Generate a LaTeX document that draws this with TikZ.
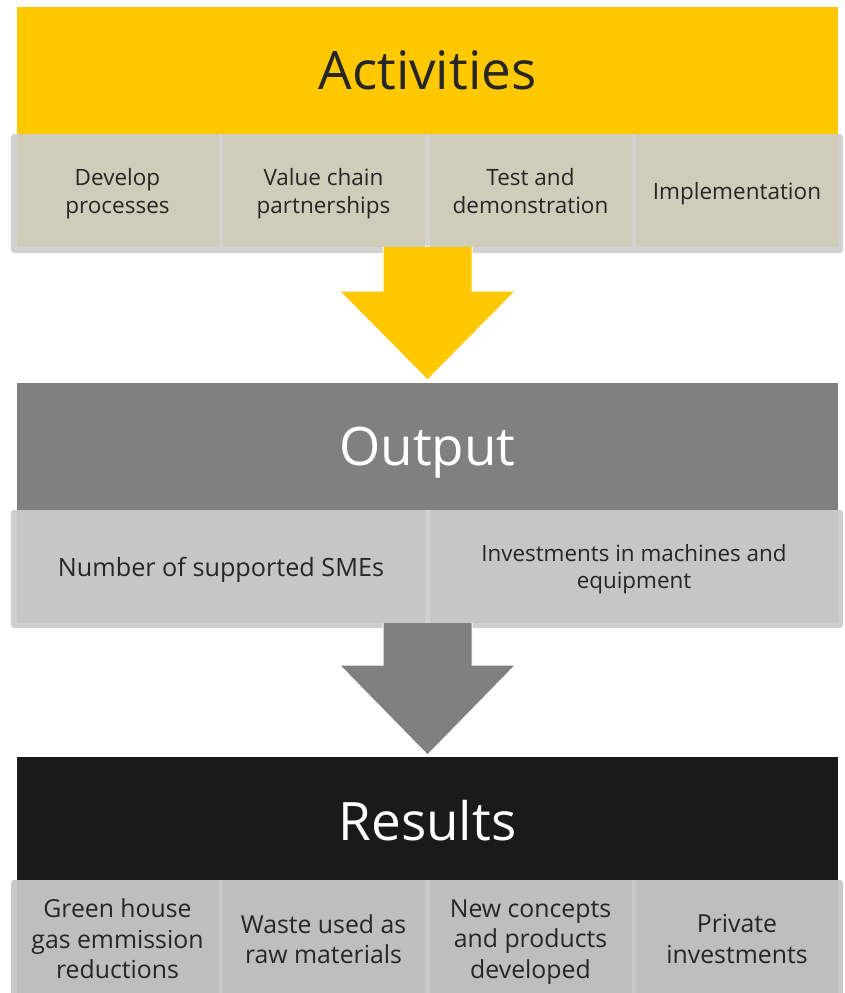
\documentclass[tikz,border=0pt]{standalone}
\usepackage{fontspec}
\setmainfont{Open Sans}
\usepackage{tikz}

\definecolor{actyellow}{RGB}{255,200,0}
\definecolor{acttan}{RGB}{208,204,186}
\definecolor{actframe}{RGB}{210,210,210}
\definecolor{outgray}{RGB}{128,128,128}
\definecolor{outbox}{RGB}{198,198,198}
\definecolor{outframe}{RGB}{206,206,206}
\definecolor{resblack}{RGB}{26,26,26}
\definecolor{resbox}{RGB}{190,190,190}
\definecolor{resframe}{RGB}{200,200,200}
\definecolor{ink}{RGB}{38,38,38}

\begin{document}
\begin{tikzpicture}[x=1pt, y=-1pt,
    band/.style={minimum width=821pt, minimum height=127pt, inner sep=0pt,
      text depth=0pt, font=\fontsize{53}{60}\selectfont},
    cell/.style={minimum height=113pt, inner sep=0pt, align=center, text=ink,
      text depth=0pt},
    blockarrow/.style={draw=white, line width=1pt}]
  \useasboundingbox (0,0) rectangle (845,993);

  % headers
  \node[band, fill=actyellow, text=ink] (act) at (427.5,70) {Activities};
  \node[band, fill=outgray, text=white] (out) at (427.5,446.5) {Output};
  \node[band, fill=resblack, text=white] (res) at (427.5,820.5) {Results};

  % frames behind the rows
  \fill[actframe, rounded corners=3pt] (11,134) rectangle (843,253);
  \fill[outframe, rounded corners=3pt] (11,510) rectangle (843,628);
  \fill[resframe, rounded corners=3pt] (11,880) rectangle (843,1010);

  % arrows
  \coordinate (stem1) at (427.5,246);
  \coordinate (tip1) at (427.5,380);
  \filldraw[blockarrow, fill=actyellow] ([xshift=-44.5pt]stem1) -- ([xshift=-44.5pt,yshift=89pt]tip1)
    -- ([xshift=-88pt,yshift=89pt]tip1) -- (tip1) -- ([xshift=88pt,yshift=89pt]tip1)
    -- ([xshift=44.5pt,yshift=89pt]tip1) -- ([xshift=44.5pt]stem1) -- cycle;
  \coordinate (stem2) at (427.5,622);
  \coordinate (tip2) at (427.5,755);
  \filldraw[blockarrow, fill=outgray] ([xshift=-44.5pt]stem2) -- ([xshift=-44.5pt,yshift=90pt]tip2)
    -- ([xshift=-88pt,yshift=90pt]tip2) -- (tip2) -- ([xshift=88pt,yshift=90pt]tip2)
    -- ([xshift=44.5pt,yshift=90pt]tip2) -- ([xshift=44.5pt]stem2) -- cycle;

  % activity cells
  \foreach \t/\x [count=\n] in {
      {Develop\\processes}/117.5,
      {Value chain\\partnerships}/323.5,
      {Test and\\demonstration}/530.5,
      {Implementation}/737} {
    \node[cell, fill=acttan, minimum width=202pt, font=\fontsize{22.5}{28}\selectfont]
      (act-\n) at (\x,190.5) {\t};
  }

  % output cells
  \foreach \t/\x/\s [count=\n] in {
      {Number of supported SMEs}/221/25.2,
      {Investments in machines and\\equipment}/634/22.4} {
    \node[cell, fill=outbox, minimum width=408pt, font=\fontsize{\s}{27.5}\selectfont]
      (out-\n) at (\x,566.5) {\t};
  }

  % result cells
  \foreach \t/\x [count=\n] in {
      {Green house\\gas emmission\\reductions}/117.5,
      {Waste used as\\raw materials}/323.5,
      {New concepts\\and products\\developed}/530.5,
      {Private\\investments}/737} {
    \node[cell, fill=resbox, minimum width=202pt, minimum height=118pt,
      font=\fontsize{24.8}{30.5}\selectfont] (res-\n) at (\x,939) {\t};
  }
\end{tikzpicture}
\end{document}
